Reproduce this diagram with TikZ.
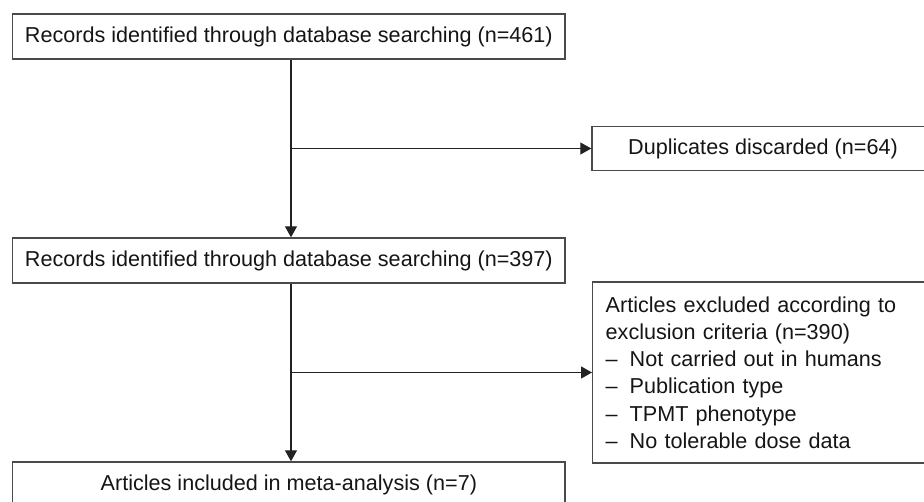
\documentclass[tikz,border=0pt]{standalone}
\usepackage{fontspec}
\setmainfont{Liberation Sans}
\usetikzlibrary{arrows.meta}
\definecolor{boxgray}{HTML}{4A4A4A}
\definecolor{linecol}{HTML}{222222}
\definecolor{txtcol}{HTML}{151515}
\begin{document}
\begin{tikzpicture}[x=1pt,y=-1pt,
  font=\fontsize{21.6}{27.2}\selectfont, text=txtcol,
  box/.style={draw=boxgray, line width=1.4pt, inner sep=0pt, minimum height=45pt},
  arr/.style={-{Triangle[length=11pt,width=12pt]}, line width=1.15pt, draw=linecol}]
\useasboundingbox (0,0) rectangle (924,502);
\clip (0,0) rectangle (924,502);
\node[box, minimum width=552.3pt] (b1) at (288.85,36.5) {Records identified through database searching (n=461)};
\node[box, minimum width=552.3pt] (b2) at (288.85,260.5) {Records identified through database searching (n=397)};
\node[box, minimum width=552.3pt] (b4) at (288.85,484.5) {Articles included in meta-analysis (n=7)};
\node[box, minimum width=342pt, minimum height=44pt] (dup) at (763,148.5) {Duplicates discarded (n=64)};
\node[box, minimum width=360pt, minimum height=181pt, align=left, text width=334pt, inner xsep=13pt, anchor=west] (exc) at (592,372.5)
  {Articles excluded according to\\exclusion criteria (n=390)\\\makebox[24pt][l]{–}Not carried out in humans\\\makebox[24pt][l]{–}Publication type\\\makebox[24pt][l]{–}TPMT phenotype\\\makebox[24pt][l]{–}No tolerable dose data};
\coordinate (v) at (291,0);
\draw[arr] (b1.south -| v) -- (b2.north -| v);
\draw[arr] (dup.west -| v) -- (dup.west);
\draw[arr] (b2.south -| v) -- (b4.north -| v);
\draw[arr] (exc.west -| v) -- (exc.west);
\end{tikzpicture}
\end{document}
